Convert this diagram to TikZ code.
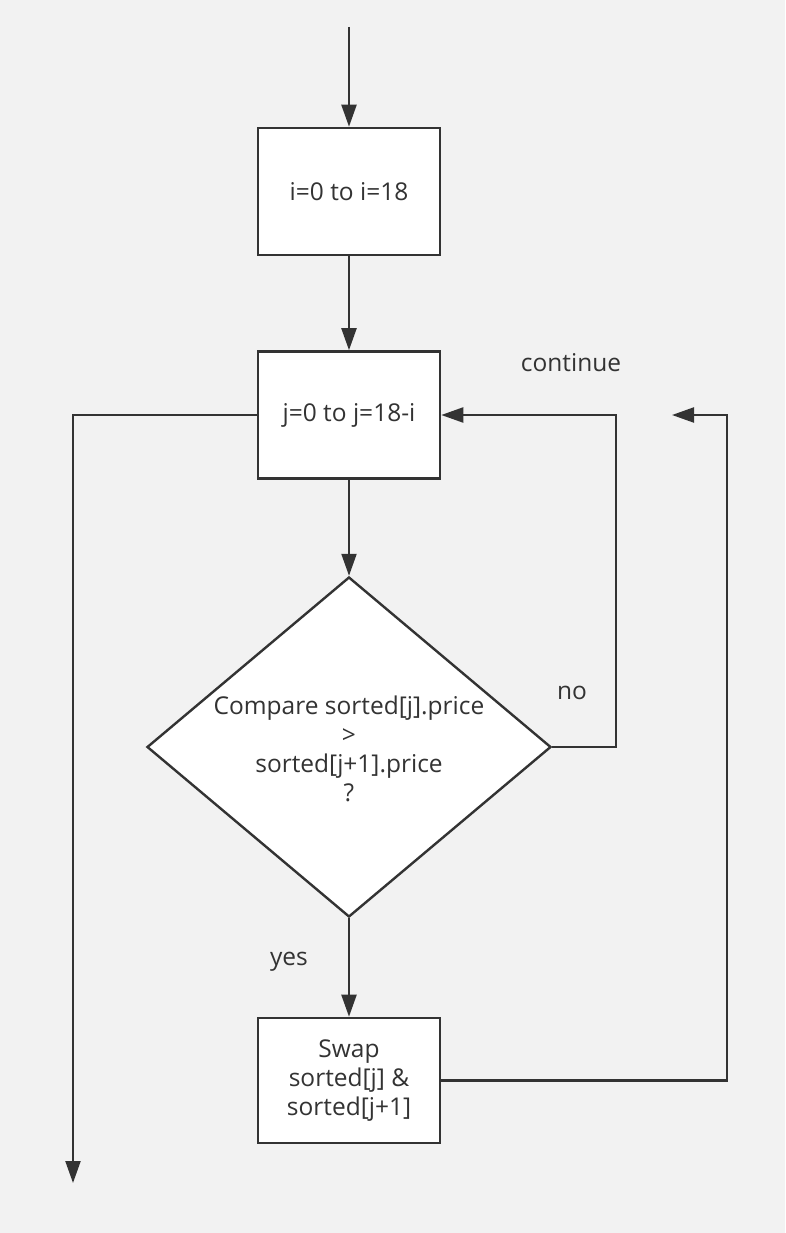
\documentclass[tikz,border=0pt]{standalone}
\usepackage{fontspec}
\setmainfont{Open Sans}
\usetikzlibrary{arrows.meta,shapes.geometric}
\definecolor{ink}{HTML}{333333}
\definecolor{paper}{HTML}{F2F2F2}
\begin{document}
\begin{tikzpicture}[x=1pt,y=-1pt,
  font=\fontsize{24.5}{29}\selectfont,
  every node/.style={text=ink},
  stepbox/.style={draw=ink,line width=2.6pt,fill=white,minimum width=182pt,minimum height=127pt,inner sep=0pt,align=center},
  decision/.style={diamond,draw=ink,line width=2.4pt,fill=white,minimum width=404pt,minimum height=340pt,inner sep=0pt},
  flow/.style={draw=ink,line width=2.2pt,-{Triangle[length=22pt,width=15pt]}},
  tag/.style={inner sep=0pt}]
  % page
  \fill[paper] (0,0) rectangle (785,1233);
  \useasboundingbox (0,0) rectangle (785,1233);

  % boxes
  \node[stepbox] (outer) at (349,191.5) {i=0 to i=18};
  \node[stepbox] (inner) at (349,415) {j=0 to j=18-i};
  \node[decision] (cmp) at (349,747) {};
  \node[align=center,inner sep=0pt] (cmptext) at (349,749) {Compare sorted[j].price\\>\\sorted[j+1].price\\?};
  \node[stepbox,minimum height=125pt] (swap) at (349,1080.5) {Swap\\sorted[j] \&\\sorted[j+1]};

  % free ends
  \coordinate (start) at (349,27);
  \coordinate (done) at (73,1183);
  \coordinate (back) at (672,415);

  % connectors
  \draw[flow] (start) -- (outer);
  \draw[flow] (outer) -- (inner);
  \draw[flow] (inner) -- (cmp);
  \draw[flow] (cmp) -- (swap);
  \draw[flow] (cmp.east) -- ++(64,0) |- (inner.east);
  \draw[flow] (inner.west) -| (done);
  \draw[flow] (swap.east) -- ++(286,0) |- (back);

  % labels
  \node[tag] (lcont) at (571,363) {continue};
  \node[tag] (lno) at (572,693) {no};
  \node[tag] (lyes) at (289,962) {yes};
\end{tikzpicture}
\end{document}
